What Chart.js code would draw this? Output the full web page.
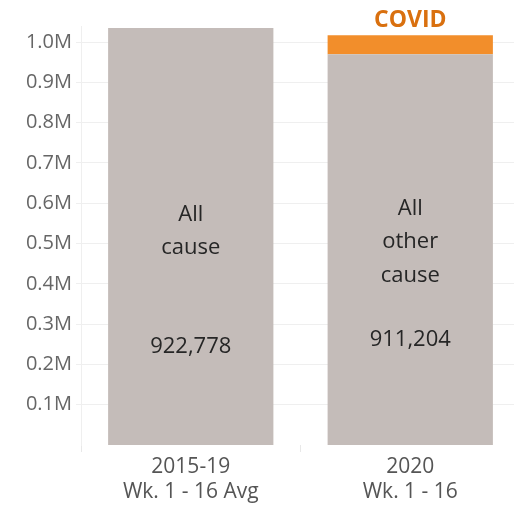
<!DOCTYPE html>
<html>
<head>
<meta charset="utf-8">
<script src="https://cdn.jsdelivr.net/npm/chart.js@4"></script>
<style>
html,body{margin:0;padding:0;background:#fff;overflow:hidden;width:514px;height:512px;}
#wrap{position:absolute;left:0;top:0;width:520px;height:512px;}
</style>
</head>
<body>
<div id="wrap"><canvas id="c" width="520" height="512"></canvas></div>
<script>
const categories = [["2015-19", "Wk. 1 - 16 Avg"], ["2020", "Wk. 1 - 16"]];
const allCause = [1035000, 970000];
const covid = [0, 47000];
const causeLabels = [["All", "cause"], ["All", "other", "cause"]];
const countLabels = ["922,778", "911,204"];
const covidLabel = "COVID";
const yTickValues = [100000, 200000, 300000, 400000, 500000, 600000, 700000, 800000, 900000, 1000000];

const FONT = "'Open Sans', 'Noto Sans', sans-serif";

const textPlugin = {
  id: 'inBarText',
  afterDatasetsDraw(chart) {
    const ctx = chart.ctx;
    const meta0 = chart.getDatasetMeta(0);
    const meta1 = chart.getDatasetMeta(1);
    ctx.save();
    ctx.textAlign = 'center';
    ctx.textBaseline = 'middle';
    meta0.data.forEach((bar, i) => {
      const top = bar.y, base = bar.base, h = base - top;
      ctx.fillStyle = '#262626';
      ctx.font = "22px " + FONT;
      const lines = causeLabels[i];
      const lh = 33.5;
      const blockCenter = lines.length === 2 ? top + h * 0.487 : top + h * 0.481;
      lines.forEach((t, k) => {
        ctx.fillText(t, bar.x, blockCenter + (k - (lines.length - 1) / 2) * lh);
      });
      const numY = lines.length === 2 ? top + h * 0.765 : top + h * 0.731;
      ctx.fillText(countLabels[i], bar.x, numY);
      if (covid[i] > 0) {
        const cb = meta1.data[i];
        ctx.fillStyle = '#d9700f';
        ctx.font = "bold 23px " + FONT;
        ctx.fillText(covidLabel, cb.x, cb.y - 15);
      }
    });
    ctx.restore();
  }
};

new Chart(document.getElementById('c'), {
  type: 'bar',
  data: {
    labels: categories,
    datasets: [
      { label: 'All cause', data: allCause, backgroundColor: '#c4bcb9', borderWidth: 0 },
      { label: 'COVID', data: covid, backgroundColor: '#f28e2b', borderWidth: 0 }
    ]
  },
  options: {
    responsive: false,
    animation: false,
    layout: { padding: { top: 26, right: 0, bottom: 0, left: 0 } },
    datasets: { bar: { categoryPercentage: 1, barPercentage: 0.753 } },
    plugins: { legend: { display: false }, tooltip: { enabled: false } },
    scales: {
      x: {
        stacked: true,
        offset: true,
        grid: { offset: true, drawOnChartArea: false, color: '#e8e8e8', tickLength: 7 },
        border: { display: false },
        ticks: { color: '#555555', font: { family: FONT, size: 21 }, padding: 2, maxRotation: 0 },
        afterFit(s) { s.height = 67; }
      },
      y: {
        stacked: true,
        min: 0,
        max: 1040000,
        afterBuildTicks(s) { s.ticks = yTickValues.map(v => ({ value: v })); },
        grid: { color: '#efefef', tickLength: 5 },
        border: { display: true, color: '#efefef' },
        ticks: {
          color: '#666666',
          font: { family: FONT, size: 20 },
          padding: 4,
          callback: v => (v / 1000000).toFixed(1) + 'M'
        },
        afterFit(s) { s.width = 81; }
      }
    }
  },
  plugins: [textPlugin]
});
</script>
</body>
</html>
